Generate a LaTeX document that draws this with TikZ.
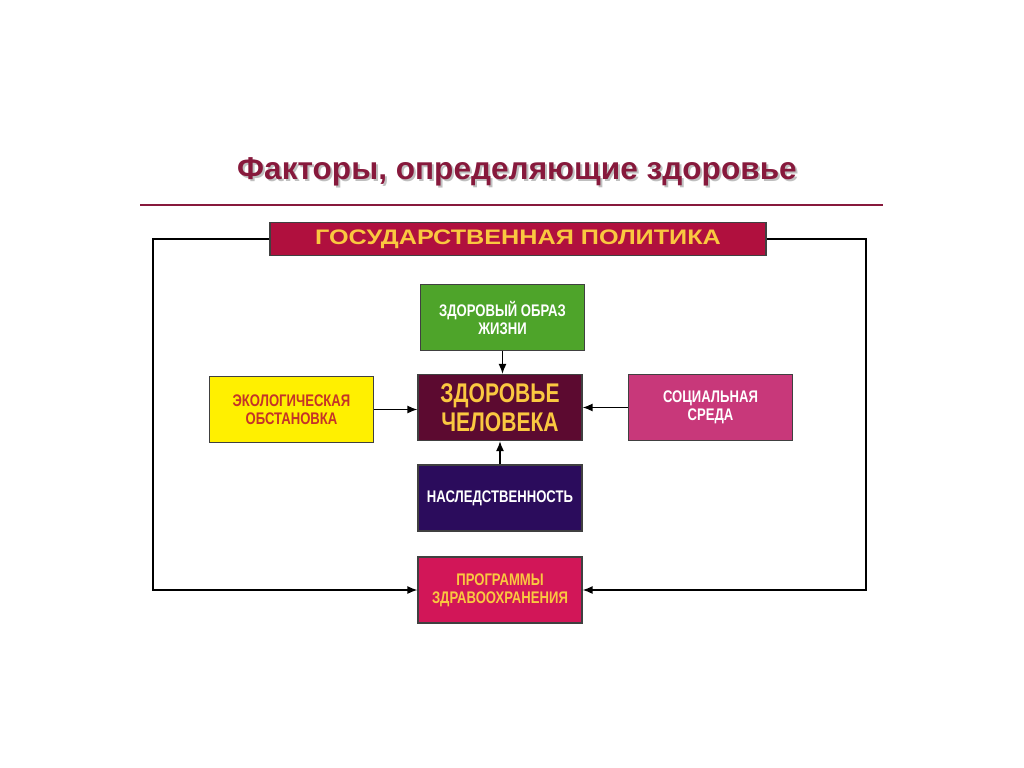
\documentclass[tikz,border=0pt]{standalone}
\usepackage{fontspec}
\setmainfont{Liberation Sans}
\newfontfamily\condfont{Liberation Sans}[FakeStretch=0.78]
\newfontfamily\widefont{Liberation Sans}[FakeStretch=1.2]
\usetikzlibrary{arrows.meta}
\definecolor{titlered}{RGB}{135,25,60}
\definecolor{polred}{RGB}{176,16,62}
\definecolor{gold}{RGB}{250,200,64}
\definecolor{lifegreen}{RGB}{78,164,42}
\definecolor{healthred}{RGB}{92,10,48}
\definecolor{ecoyellow}{RGB}{255,240,0}
\definecolor{ecotext}{RGB}{196,52,40}
\definecolor{socpink}{RGB}{200,56,122}
\definecolor{herblue}{RGB}{43,12,92}
\definecolor{progred}{RGB}{210,22,88}
\tikzset{box/.style={draw=black!75, line width=0.6pt, minimum width=82pt,
           minimum height=33pt, align=center, inner sep=2pt,
           font=\condfont\bfseries\fontsize{8.4}{9}\selectfont},
         link/.style={-{Latex[length=5pt,width=4pt]}, line width=0.7pt}}
\begin{document}
\begin{tikzpicture}[x=0.5pt, y=-0.5pt]
\useasboundingbox (0,0) rectangle (1024,767);
% heading
\node[text=black!25, font=\bfseries\fontsize{15.8}{18}\selectfont] (titleshadow) at (519,174) {Факторы, определяющие здоровье};
\node[text=titlered, font=\bfseries\fontsize{15.8}{18}\selectfont] (title) at (517,172) {Факторы, определяющие здоровье};
\draw[titlered, line width=0.8pt] (140,205) -- (883,205);
% boxes
\node[box, fill=polred, text=gold, minimum width=248pt, minimum height=16.5pt,
      font=\widefont\bfseries\fontsize{10.5}{12}\selectfont] (pol) at (518,239) {ГОСУДАРСТВЕННАЯ ПОЛИТИКА};
\node[box, fill=lifegreen, text=white] (life) at (502.5,317.5) {ЗДОРОВЫЙ ОБРАЗ\\ЖИЗНИ};
\node[box, fill=healthred, text=gold, font=\condfont\bfseries\fontsize{13.5}{14.5}\selectfont] (health) at (500,407.5) {ЗДОРОВЬЕ\\ЧЕЛОВЕКА};
\node[box, fill=ecoyellow, text=ecotext] (eco) at (291.5,409.5) {ЭКОЛОГИЧЕСКАЯ\\ОБСТАНОВКА};
\node[box, fill=socpink, text=white] (soc) at (710.5,407.5) {СОЦИАЛЬНАЯ\\СРЕДА};
\node[box, fill=herblue, text=white] (her) at (500,498) {НАСЛЕДСТВЕННОСТЬ};
\node[box, fill=progred, text=gold] (prog) at (500,590) {ПРОГРАММЫ\\ЗДРАВООХРАНЕНИЯ};
\coordinate (fl) at (153,590);
\coordinate (fr) at (866,590);
% arrows
\draw[link] (life) -- (life |- health.north);
\draw[link] (eco) -- (eco -| health.west);
\draw[link] (soc) -- (health);
\draw[link] (her) -- (health);
\draw[link] (pol.west) -| (fl) -- (prog.west);
\draw[link] (pol.east) -| (fr) -- (prog.east);
\end{tikzpicture}
\end{document}
